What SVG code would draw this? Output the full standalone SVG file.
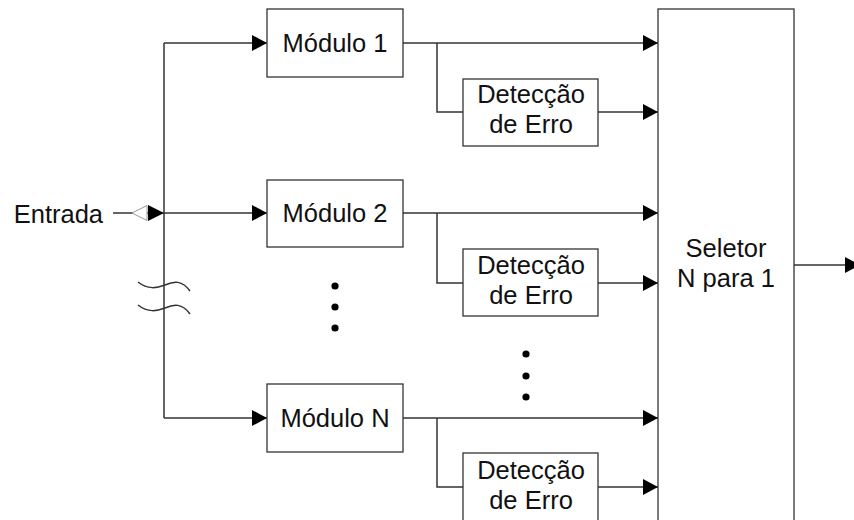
<svg xmlns="http://www.w3.org/2000/svg" width="854" height="520" viewBox="0 0 854 520">
  <style>
    .box { fill: #ffffff; stroke: #333333; stroke-width: 1.3; }
    .wire { fill: none; stroke: #333333; stroke-width: 1.5; }
    .lbl { font-family: "Liberation Sans", Arial, sans-serif; font-size: 25.5px; fill: #111111; text-anchor: middle; }
    .dot { fill: #000000; }
  </style>
  <defs>
    <marker id="arrow" viewBox="0 0 15 16" refX="15" refY="8" markerWidth="15" markerHeight="16" markerUnits="userSpaceOnUse" orient="auto">
      <path d="M0,0 L15,8 L0,16 Z" fill="#000000"/>
    </marker>
  </defs>
  <rect width="854" height="520" fill="#ffffff"/>

  <!-- connectors -->
  <g id="connectors">
    <!-- input line and distribution bus -->
    <path class="wire" d="M113,213 H164"/>
    <path d="M132,213 L147,205.5 L147,220.5 Z" fill="#ffffff" stroke="#999999" stroke-width="1"/>
    <path d="M164,213 L148,205 L148,221 Z" fill="#000000"/>
    <path class="wire" d="M164,43 V418"/>
    <path class="wire" d="M164,43 H267" marker-end="url(#arrow)"/>
    <path class="wire" d="M164,213 H267" marker-end="url(#arrow)"/>
    <path class="wire" d="M164,418 H267" marker-end="url(#arrow)"/>
    <!-- break marks on the bus -->
    <path class="wire" d="M138,282 C148,290 157,288 165,285 C174,281 182,280 190,291"/>
    <path class="wire" d="M138,305 C148,313 157,311 165,308 C174,304 182,303 190,314"/>

    <!-- module 1 outputs -->
    <path class="wire" d="M403,43 H658" marker-end="url(#arrow)"/>
    <path class="wire" d="M437,43 V112 H463"/>
    <path class="wire" d="M598,112 H658" marker-end="url(#arrow)"/>
    <!-- module 2 outputs -->
    <path class="wire" d="M403,213 H658" marker-end="url(#arrow)"/>
    <path class="wire" d="M437,213 V283 H463"/>
    <path class="wire" d="M598,283 H658" marker-end="url(#arrow)"/>
    <!-- module N outputs -->
    <path class="wire" d="M403,418 H658" marker-end="url(#arrow)"/>
    <path class="wire" d="M437,418 V487 H463"/>
    <path class="wire" d="M598,487 H658" marker-end="url(#arrow)"/>

    <!-- selector output -->
    <path class="wire" d="M794,265 H860" marker-end="url(#arrow)"/>
  </g>

  <g id="entrada">
    <text class="lbl" x="103" y="223" style="text-anchor:end">Entrada</text>
  </g>

  <g id="modulo1">
    <rect class="box" x="267" y="9" width="136" height="68"/>
    <text class="lbl" x="335" y="52">Módulo 1</text>
  </g>
  <g id="deteccao1">
    <rect class="box" x="463" y="79" width="135" height="67"/>
    <text class="lbl" x="531" y="103">Detecção</text>
    <text class="lbl" x="531" y="133">de Erro</text>
  </g>

  <g id="modulo2">
    <rect class="box" x="267" y="180" width="136" height="67"/>
    <text class="lbl" x="335" y="222">Módulo 2</text>
  </g>
  <g id="deteccao2">
    <rect class="box" x="463" y="249" width="135" height="67"/>
    <text class="lbl" x="531" y="274">Detecção</text>
    <text class="lbl" x="531" y="304">de Erro</text>
  </g>

  <g id="moduloN">
    <rect class="box" x="267" y="384" width="136" height="68"/>
    <text class="lbl" x="335" y="427">Módulo N</text>
  </g>
  <g id="deteccaoN">
    <rect class="box" x="463" y="453" width="135" height="70"/>
    <text class="lbl" x="531" y="479">Detecção</text>
    <text class="lbl" x="531" y="509">de Erro</text>
  </g>

  <g id="seletor">
    <rect class="box" x="658" y="9" width="136" height="520"/>
    <text class="lbl" x="726" y="257">Seletor</text>
    <text class="lbl" x="726" y="287">N para 1</text>
  </g>

  <!-- ellipsis dots -->
  <g id="reticencias">
    <circle class="dot" cx="335" cy="286" r="3.6"/>
    <circle class="dot" cx="335" cy="307" r="3.6"/>
    <circle class="dot" cx="335" cy="328" r="3.6"/>
    <circle class="dot" cx="526" cy="354" r="3.6"/>
    <circle class="dot" cx="526" cy="376" r="3.6"/>
    <circle class="dot" cx="526" cy="397" r="3.6"/>
  </g>
</svg>
